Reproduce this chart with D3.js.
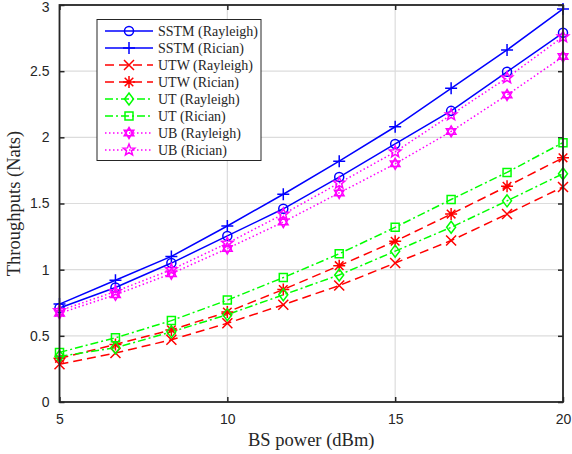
<!DOCTYPE html>
<html><head><meta charset="utf-8">
<script src="https://cdn.jsdelivr.net/npm/d3@7"></script>
<style>body{margin:0;background:#fff}svg{display:block}</style>
</head><body>
<svg id="c" width="572" height="454"></svg>
<script>
const xValues = [5, 6.667, 8.333, 10, 11.667, 13.333, 15, 16.667, 18.333, 20];
const sstmRayleigh = [0.71, 0.865, 1.05, 1.255, 1.46, 1.70, 1.95, 2.20, 2.495, 2.79];
const sstmRician   = [0.74, 0.92, 1.10, 1.33, 1.57, 1.82, 2.08, 2.37, 2.66, 2.97];
const utwRayleigh  = [0.285, 0.37, 0.47, 0.595, 0.735, 0.88, 1.05, 1.22, 1.42, 1.625];
const utwRician    = [0.33, 0.435, 0.545, 0.68, 0.85, 1.03, 1.215, 1.42, 1.63, 1.845];
const utRayleigh   = [0.345, 0.41, 0.53, 0.66, 0.81, 0.96, 1.14, 1.32, 1.52, 1.725];
const utRician     = [0.375, 0.485, 0.615, 0.77, 0.94, 1.12, 1.32, 1.53, 1.735, 1.96];
const ubRayleigh   = [0.67, 0.81, 0.97, 1.16, 1.36, 1.58, 1.80, 2.045, 2.32, 2.61];
const ubRician     = [0.69, 0.835, 1.00, 1.20, 1.42, 1.655, 1.89, 2.17, 2.45, 2.76];
const xTicks = [5, 10, 15, 20];
const yTicks = [0, 0.5, 1, 1.5, 2, 2.5, 3];

const series = [
  {name: "SSTM (Rayleigh)", values: sstmRayleigh, color: "#0000ff", dash: null, marker: "circle"},
  {name: "SSTM (Rician)", values: sstmRician, color: "#0000ff", dash: null, marker: "plus"},
  {name: "UTW (Rayleigh)", values: utwRayleigh, color: "#ff0000", dash: "9,5", marker: "x"},
  {name: "UTW (Rician)", values: utwRician, color: "#ff0000", dash: "9,5", marker: "asterisk"},
  {name: "UT (Rayleigh)", values: utRayleigh, color: "#00ff00", dash: "8,3,2,3", marker: "diamond"},
  {name: "UT (Rician)", values: utRician, color: "#00ff00", dash: "8,3,2,3", marker: "square"},
  {name: "UB (Rayleigh)", values: ubRayleigh, color: "#ff00ff", dash: "1.5,2.5", marker: "hexagram"},
  {name: "UB (Rician)", values: ubRician, color: "#ff00ff", dash: "1.5,2.5", marker: "pentagram"}
];

const L = 59.5, R = 563, T = 5, B = 402;
const svg = d3.select("#c");
const x = d3.scaleLinear().domain([5, 20]).range([L, R]);
const y = d3.scaleLinear().domain([0, 3]).range([B, T]);

// grid
const g = svg.append("g");
g.selectAll(".gx").data(xTicks).join("line")
  .attr("x1", d => x(d)).attr("x2", d => x(d)).attr("y1", T).attr("y2", B)
  .attr("stroke", "#dcdcdc").attr("stroke-width", 1.2);
g.selectAll(".gy").data(yTicks).join("line")
  .attr("y1", d => y(d)).attr("y2", d => y(d)).attr("x1", L).attr("x2", R)
  .attr("stroke", "#dcdcdc").attr("stroke-width", 1.2);

// axes with inward ticks
const ax = d3.axisBottom(x).tickValues(xTicks).tickSizeInner(-5).tickSizeOuter(0).tickPadding(12).tickFormat(d3.format("d"));
const axT = d3.axisTop(x).tickValues(xTicks).tickSizeInner(-5).tickSizeOuter(0).tickFormat("");
const ay = d3.axisLeft(y).tickValues(yTicks).tickSizeInner(-5).tickSizeOuter(0).tickPadding(10).tickFormat(d => d3.format("")(d));
const ayR = d3.axisRight(y).tickValues(yTicks).tickSizeInner(-5).tickSizeOuter(0).tickFormat("");

function styleAxis(sel){
  sel.select(".domain").remove();
  sel.selectAll(".tick line").attr("stroke", "#262626").attr("stroke-width", 1.5);
  sel.selectAll(".tick text").attr("fill", "#262626").style("font-family", "Liberation Sans, Arial, sans-serif").style("font-size", "14px");
}
svg.append("g").attr("transform", `translate(0,${B})`).call(ax).call(styleAxis);
svg.append("g").attr("transform", `translate(0,${T})`).call(axT).call(styleAxis);
const gy = svg.append("g").attr("transform", `translate(${L},0)`).call(ay).call(styleAxis);
gy.selectAll(".tick text").filter(d => d === 3).attr("dy", "0.45em");
svg.append("g").attr("transform", `translate(${R},0)`).call(ayR).call(styleAxis);

// lines
const line = d3.line().x((d, i) => x(xValues[i])).y(d => y(d));
const plot = svg.append("g");
series.forEach(s => {
  plot.append("path").datum(s.values).attr("d", line)
    .attr("fill", "none").attr("stroke", s.color).attr("stroke-width", 1.5)
    .attr("stroke-dasharray", s.dash);
});

function starPath(n, ro, ri){
  const pts = [];
  for (let k = 0; k < 2 * n; k++) {
    const r = k % 2 === 0 ? ro : ri;
    const a = -Math.PI / 2 + k * Math.PI / n;
    pts.push([r * Math.cos(a), r * Math.sin(a)]);
  }
  return "M" + pts.map(p => p[0].toFixed(2) + "," + p[1].toFixed(2)).join("L") + "Z";
}
function markerPath(m){
  switch(m){
    case "circle": return d3.symbol(d3.symbolCircle, 64)();
    case "plus": return "M-6,0L6,0M0,-6L0,6";
    case "x": return "M-5,-5L5,5M-5,5L5,-5";
    case "asterisk": return "M-6,0L6,0M0,-6L0,6M-4.3,-4.3L4.3,4.3M-4.3,4.3L4.3,-4.3";
    case "diamond": return "M0,-6L4.5,0L0,6L-4.5,0Z";
    case "square": return "M-4,-4L4,-4L4,4L-4,4Z";
    case "hexagram": return "M0,-5.5L4.8,2.75L-4.8,2.75ZM0,5.5L4.8,-2.75L-4.8,-2.75Z";
    case "pentagram": return starPath(5, 6, 2.6);
  }
}
series.forEach(s => {
  plot.selectAll(null).data(s.values).join("path")
    .attr("transform", (d, i) => `translate(${x(xValues[i])},${y(d)})`)
    .attr("d", markerPath(s.marker))
    .attr("fill", "none").attr("stroke", s.color).attr("stroke-width", 1.5);
});

// frame
svg.append("rect").attr("x", L).attr("y", T).attr("width", R - L).attr("height", B - T)
  .attr("fill", "none").attr("stroke", "#262626").attr("stroke-width", 1.8);

// axis labels
svg.append("text").attr("x", (L + R) / 2).attr("y", 446).attr("text-anchor", "middle")
  .style("font-family", "Liberation Serif, Times New Roman, serif").style("font-size", "18.5px").attr("fill", "#262626")
  .text("BS power (dBm)");
svg.append("text").attr("transform", `translate(20,${(T + B) / 2}) rotate(-90)`).attr("text-anchor", "middle")
  .style("font-family", "Liberation Serif, Times New Roman, serif").style("font-size", "18.5px").attr("fill", "#262626")
  .text("Throughputs (Nats)");

// legend
const lg = svg.append("g");
lg.append("rect").attr("x", 97).attr("y", 19.5).attr("width", 164).attr("height", 141)
  .attr("fill", "#fff").attr("stroke", "#262626").attr("stroke-width", 1);
series.forEach((s, i) => {
  const cy = 31 + i * 17;
  lg.append("line").attr("x1", 105).attr("x2", 153).attr("y1", cy).attr("y2", cy)
    .attr("stroke", s.color).attr("stroke-width", 1.5).attr("stroke-dasharray", s.dash);
  lg.append("path").attr("transform", `translate(129,${cy})`).attr("d", markerPath(s.marker))
    .attr("fill", "none").attr("stroke", s.color).attr("stroke-width", 1.5);
  lg.append("text").attr("x", 158).attr("y", cy + 5)
    .style("font-family", "Liberation Serif, Times New Roman, serif").style("font-size", "14px").attr("fill", "#262626")
    .text(s.name);
});
</script>
</body></html>
